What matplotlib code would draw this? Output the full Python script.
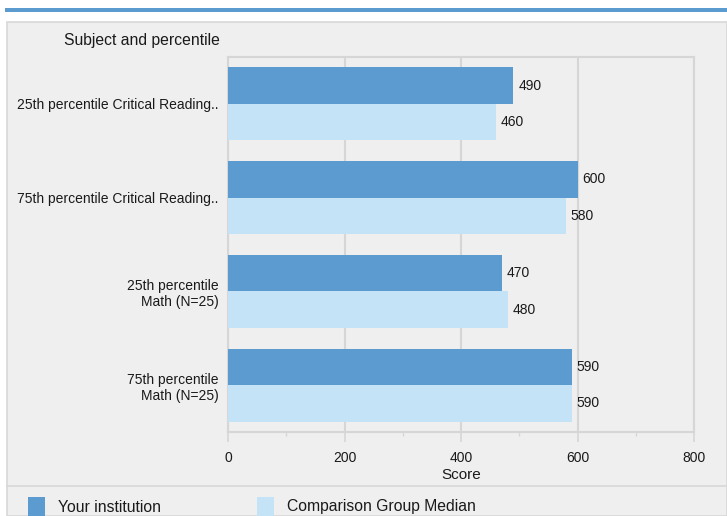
import matplotlib.pyplot as plt
from matplotlib.patches import Rectangle
from matplotlib.lines import Line2D

# data
categories = ['25th percentile Critical Reading..',
              '75th percentile Critical Reading..',
              '25th percentile\nMath (N=25)',
              '75th percentile\nMath (N=25)']
your_inst = [490, 600, 470, 590]
comparison = [460, 580, 480, 590]
series_names = ['Your institution', 'Comparison Group Median']
xticks = [0, 200, 400, 600, 800]

dark = '#5b9bd0'
light = '#c5e3f6'
panel = '#efefef'
grid = '#d6d6d6'
txt = '#1a1a1a'

plt.rcParams['font.family'] = ['Liberation Sans', 'DejaVu Sans']

W, H = 727, 516
fig = plt.figure(figsize=(W / 100, H / 100), dpi=100)
fig.patch.set_facecolor('white')

def fx(px):
    return px / W

def fy(py):
    return 1 - py / H

# top blue strip and grey panel (behind the axes)
fig.add_artist(Rectangle((fx(5), fy(12)), fx(722), 4 / H, transform=fig.transFigure,
                         facecolor=dark, edgecolor='none', zorder=-10))
fig.add_artist(Rectangle((fx(7), 0), 1 - fx(7), fy(22), transform=fig.transFigure,
                         facecolor=panel, edgecolor='#d8d8d8', linewidth=1.2, zorder=-10))
fig.add_artist(Line2D([fx(7), 1], [fy(486), fy(486)], transform=fig.transFigure,
                      color='#d8d8d8', linewidth=1.2, zorder=-9))

ax = fig.add_axes([fx(228), fy(432), fx(694) - fx(228), (432 - 57) / H])
ax.set_facecolor(panel)

h = 0.39
ypos = list(range(len(categories)))
b1 = ax.barh([y - h / 2 for y in ypos], your_inst, height=h, color=dark, zorder=3)
b2 = ax.barh([y + h / 2 for y in ypos], comparison, height=h, color=light, zorder=3)

for bars, vals in ((b1, your_inst), (b2, comparison)):
    for bar, v in zip(bars, vals):
        ax.annotate(str(v), (v, bar.get_y() + bar.get_height() / 2),
                    xytext=(3.5, 0), textcoords='offset points',
                    va='center', ha='left', fontsize=10, color=txt, zorder=4)

ax.set_xlim(0, 800)
ax.set_ylim(3.5, -0.5)
ax.set_xticks(xticks)
ax.set_xticks([100, 300, 500, 700], minor=True)
ax.set_xticklabels([str(t) for t in xticks], fontsize=10, color=txt)
ax.set_yticks(ypos)
ax.set_yticklabels(categories, fontsize=10, color=txt, multialignment='right')
ax.tick_params(axis='y', length=0, pad=7)
ax.tick_params(axis='x', which='major', length=7, width=1.2, color=grid, pad=7)
ax.tick_params(axis='x', which='minor', length=3, width=1, color=grid)
ax.grid(axis='x', color=grid, linewidth=1.5, zorder=0)

for s in ax.spines.values():
    s.set_color(grid)
    s.set_linewidth(1.5)

ax.set_xlabel('Score', fontsize=11, color=txt, labelpad=2)

fig.text(fx(64), fy(41), 'Subject and percentile', fontsize=11.3, color=txt,
         ha='left', va='center')

# legend
fig.add_artist(Rectangle((fx(28), fy(516)), fx(17), 19 / H, transform=fig.transFigure,
                         facecolor=dark, edgecolor='none'))
fig.text(fx(58), fy(507), series_names[0], fontsize=11.3, color=txt, va='center')
fig.add_artist(Rectangle((fx(257), fy(516)), fx(17), 19 / H, transform=fig.transFigure,
                         facecolor=light, edgecolor='none'))
fig.text(fx(287), fy(507), series_names[1], fontsize=11.3, color=txt, va='center')

fig.savefig('out.png', dpi=100)
